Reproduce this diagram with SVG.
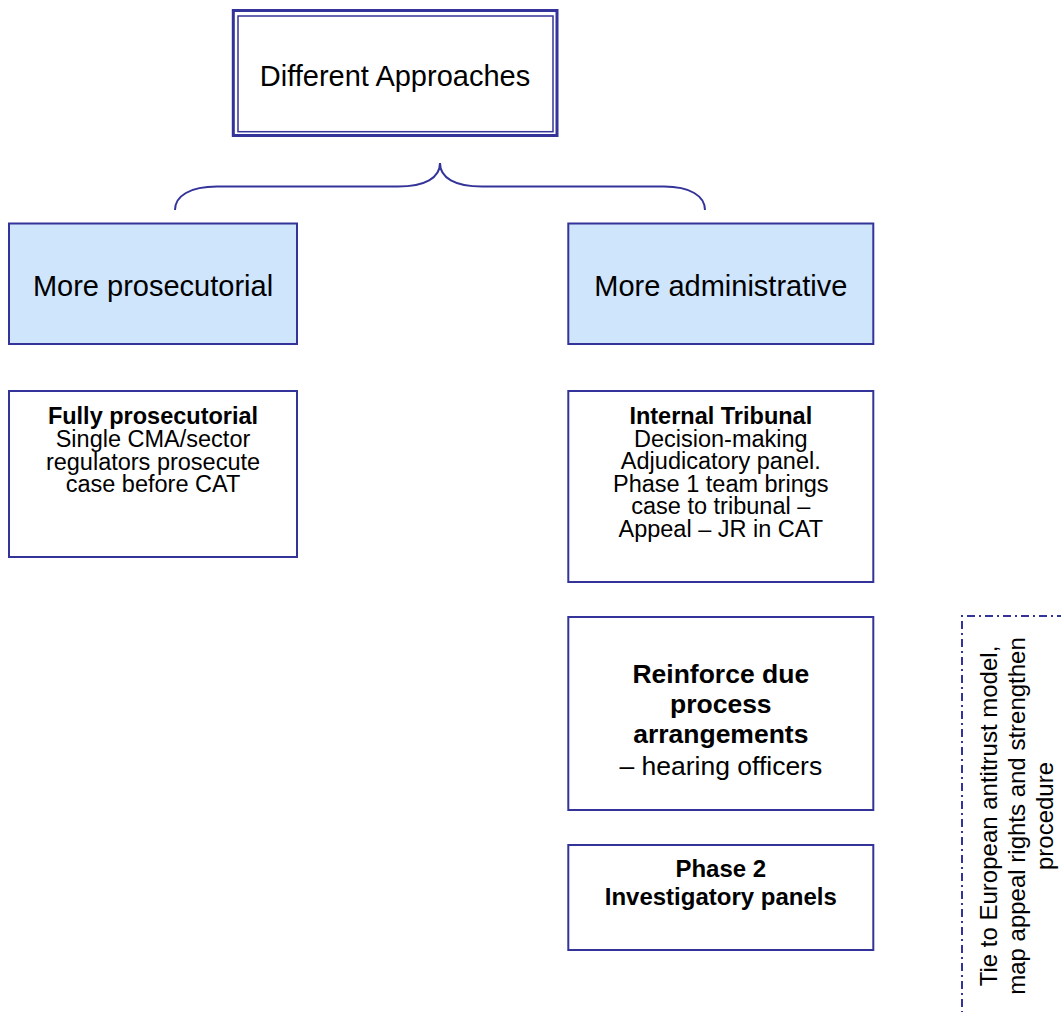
<svg xmlns="http://www.w3.org/2000/svg" width="1061" height="1012" viewBox="0 0 1061 1012">
<style>
  text { font-family: "Liberation Sans", Arial, sans-serif; fill: #000; text-anchor: middle; }
  .box { fill: #fff; stroke: #333399; stroke-width: 2; }
  .blue { fill: #cfe5fc; stroke: #333399; stroke-width: 2; }
  .title { font-size: 29px; }
  .t1 { font-size: 23.5px; }
  .t2 { font-size: 26.5px; }
  .t3 { font-size: 24px; }
  .b { font-weight: bold; }
  .conn { fill: none; stroke: #333399; stroke-width: 2; }
</style>
<rect width="1061" height="1012" fill="#fff"/>
<g id="top">
  <rect x="233.3" y="10.5" width="323.7" height="125" fill="#fff" stroke="#333399" stroke-width="3"/>
  <rect x="238" y="16" width="315" height="115.7" fill="none" stroke="#333399" stroke-width="1.5"/>
  <text class="title" x="395" y="86">Different Approaches</text>
</g>
<g id="connectors">
  <path class="conn" d="M175,210 C175,196 190,186.5 217,186.5 L398,186.5 C425,186.5 440,178 440,163 C440,178 455,186.5 482,186.5 L664,186.5 C690,186.5 705,196 705,210"/>
</g>
<g id="prosecutorial">
  <rect class="blue" x="9" y="223.5" width="288" height="120.5"/>
  <text class="title" x="153" y="296">More prosecutorial</text>
</g>
<g id="administrative">
  <rect class="blue" x="568.3" y="223.5" width="305" height="120.5"/>
  <text class="title" x="720.8" y="296">More administrative</text>
</g>
<g id="fully">
  <rect class="box" x="9" y="391" width="288" height="166"/>
  <text class="t1" x="153"><tspan class="b" x="153" y="424">Fully prosecutorial</tspan><tspan x="153" y="447">Single CMA/sector</tspan><tspan x="153" y="469.5">regulators prosecute</tspan><tspan x="153" y="492">case before CAT</tspan></text>
</g>
<g id="tribunal">
  <rect class="box" x="568.3" y="391" width="305" height="191"/>
  <text class="t1" x="720.8"><tspan class="b" x="720.8" y="424">Internal Tribunal</tspan><tspan x="720.8" y="446.6">Decision-making</tspan><tspan x="720.8" y="469.2">Adjudicatory panel.</tspan><tspan x="720.8" y="491.8">Phase 1 team brings</tspan><tspan x="720.8" y="514.4">case to tribunal –</tspan><tspan x="720.8" y="537">Appeal – JR in CAT</tspan></text>
</g>
<g id="reinforce">
  <rect class="box" x="568.3" y="617" width="305" height="193"/>
  <text class="t2" x="720.8"><tspan class="b" x="720.8" y="683">Reinforce due</tspan><tspan class="b" x="720.8" y="713">process</tspan><tspan class="b" x="720.8" y="743">arrangements</tspan><tspan x="720.8" y="775">– hearing officers</tspan></text>
</g>
<g id="phase2">
  <rect class="box" x="568.3" y="845" width="305" height="105"/>
  <text class="t3 b" x="720.8"><tspan x="720.8" y="877">Phase 2</tspan><tspan x="720.8" y="905">Investigatory panels</tspan></text>
</g>
<g id="note">
  <path d="M1065,616 L962,616 L962,1016" fill="none" stroke="#333399" stroke-width="2" stroke-dasharray="8,4,2,4"/>
  <g transform="translate(0,816) rotate(-90)">
    <text class="t3" x="0" y="997">Tie to European antitrust model,</text>
    <text class="t3" x="0" y="1025">map appeal rights and strengthen</text>
    <text class="t3" x="0" y="1053">procedure</text>
  </g>
</g>
</svg>
